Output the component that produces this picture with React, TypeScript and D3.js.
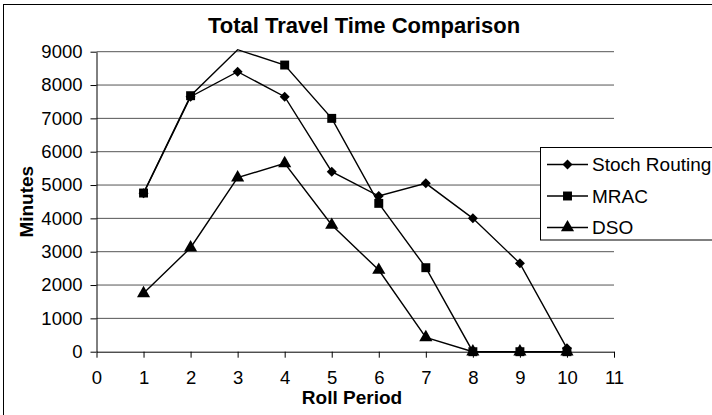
import React, { useEffect, useRef } from 'react';
import * as d3 from 'd3';

const periods = [1, 2, 3, 4, 5, 6, 7, 8, 9, 10];
const stochRouting = [4750, 7650, 8400, 7650, 5400, 4670, 5050, 4000, 2650, 100];
const mrac = [4760, 7680, 9060, 8600, 7000, 4450, 2520, 0, 0, 0];
const dso = [1750, 3120, 5220, 5650, 3800, 2450, 430, 0, 0, 0];

const seriesNames = ['Stoch Routing', 'MRAC', 'DSO'];
const seriesValues = [stochRouting, mrac, dso];
const seriesMarkers = [d3.symbolSquare, d3.symbolSquare, d3.symbolTriangle];
const markerSizes = [50, 80, 75];
const markerRotate = [45, 0, 0];

const xTicks = [0, 1, 2, 3, 4, 5, 6, 7, 8, 9, 10, 11];
const yTicks = [0, 1000, 2000, 3000, 4000, 5000, 6000, 7000, 8000, 9000];

const FONT = '"Liberation Sans", Arial, sans-serif';

const Chart: React.FC = () => {
  const svgRef = useRef<SVGSVGElement>(null);

  useEffect(() => {
    if (!svgRef.current) return;
    const svg = d3.select(svgRef.current);
    svg.selectAll('*').remove();

    const left = 96.5, right = 614, top = 51.7, bottom = 351.7;

    const x = d3.scaleLinear().domain([0, 11]).range([left, right]);
    const y = d3.scaleLinear().domain([0, 9000]).range([bottom, top]);

    svg.append('rect').attr('width', 712).attr('height', 415).attr('fill', '#fff');

    // chart frame (runs off the right edge of the picture)
    svg.append('rect')
      .attr('x', 3.5).attr('y', 4.5)
      .attr('width', 760).attr('height', 460)
      .attr('fill', 'none').attr('stroke', '#000').attr('stroke-width', 1);

    svg.append('text')
      .attr('x', 364).attr('y', 33)
      .attr('text-anchor', 'middle')
      .style('font-family', FONT).style('font-size', '22px').style('font-weight', 'bold')
      .text('Total Travel Time Comparison');

    // gridlines
    svg.append('g').selectAll('line')
      .data(yTicks.filter(t => t > 0))
      .enter().append('line')
      .attr('x1', left).attr('x2', right)
      .attr('y1', d => y(d)).attr('y2', d => y(d))
      .attr('stroke', '#555').attr('stroke-width', 1);

    // y axis
    const yAxis = svg.append('g')
      .attr('transform', `translate(${left},0)`)
      .call(d3.axisLeft(y).tickValues(yTicks).tickFormat(d3.format('d'))
        .tickSize(6).tickPadding(8).tickSizeOuter(0));
    yAxis.select('.domain').attr('stroke', '#000');
    yAxis.selectAll('text')
      .style('font-family', FONT).style('font-size', '18.5px').attr('fill', '#000');

    // x axis
    const xAxis = svg.append('g')
      .attr('transform', `translate(0,${bottom})`)
      .call(d3.axisBottom(x).tickValues(xTicks).tickFormat(d3.format('d'))
        .tickSize(6).tickPadding(13).tickSizeOuter(0));
    xAxis.selectAll('text')
      .style('font-family', FONT).style('font-size', '18.5px').attr('fill', '#000');

    svg.append('text')
      .attr('x', 352).attr('y', 404)
      .attr('text-anchor', 'middle')
      .style('font-family', FONT).style('font-size', '19px').style('font-weight', 'bold')
      .text('Roll Period');

    svg.append('text')
      .attr('transform', `translate(33,${(top + bottom) / 2}) rotate(-90)`)
      .attr('text-anchor', 'middle')
      .style('font-family', FONT).style('font-size', '19px').style('font-weight', 'bold')
      .text('Minutes');

    const line = d3.line<number>()
      .x((_, i) => x(periods[i]))
      .y(d => y(d));

    seriesValues.forEach((vals, s) => {
      svg.append('path')
        .attr('d', line(vals))
        .attr('fill', 'none').attr('stroke', '#000').attr('stroke-width', 1.4);

      const sym = d3.symbol().type(seriesMarkers[s]).size(markerSizes[s]);
      svg.append('g').selectAll('path')
        .data(vals.map((v, i) => ({ v, p: periods[i] })).filter(d => d.v <= 9000))
        .enter().append('path')
        .attr('d', sym)
        .attr('transform', d => `translate(${x(d.p)},${y(d.v)}) rotate(${markerRotate[s]})`)
        .attr('fill', '#000');
    });

    // legend
    const lg = svg.append('g');
    lg.append('rect')
      .attr('x', 540.5).attr('y', 147.5)
      .attr('width', 200).attr('height', 92.5)
      .attr('fill', '#fff').attr('stroke', '#000').attr('stroke-width', 1);

    seriesNames.forEach((name, s) => {
      const cy = 164.5 + s * 31.5;
      lg.append('line')
        .attr('x1', 547).attr('x2', 588)
        .attr('y1', cy).attr('y2', cy)
        .attr('stroke', '#000').attr('stroke-width', 1.4);
      lg.append('path')
        .attr('d', d3.symbol().type(seriesMarkers[s]).size(markerSizes[s])())
        .attr('transform', `translate(567.5,${cy}) rotate(${markerRotate[s]})`)
        .attr('fill', '#000');
      lg.append('text')
        .attr('x', 592).attr('y', cy + 6.5)
        .style('font-family', FONT).style('font-size', '19px')
        .text(name);
    });
  }, []);

  return (
    <svg ref={svgRef} width={712} height={415}
      style={{ position: 'absolute', left: 0, top: 0, display: 'block' }} />
  );
};

export default function App() {
  return <Chart />;
}
